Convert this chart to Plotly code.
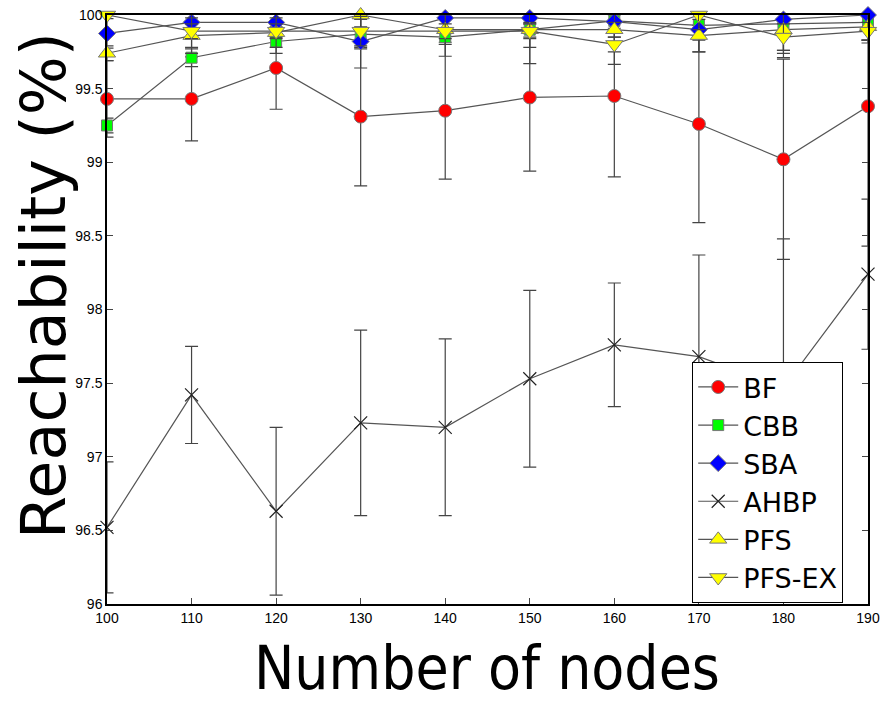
import plotly.graph_objects as go

nodes = [100, 110, 120, 130, 140, 150, 160, 170, 180, 190]

bf = [99.43, 99.43, 99.64, 99.31, 99.35, 99.44, 99.45, 99.26, 99.02, 99.38]
bf_err = [0.26, 0.285, 0.28, 0.47, 0.465, 0.50, 0.55, 0.67, 0.68, 0.95]

cbb = [99.25, 99.71, 99.82, 99.87, 99.85, 99.90, 99.96, 99.93, 99.94, 99.95]
cbb_err = [0.05, 0.06, 0.08, 0.10, 0.13, 0.12, 0.05, 0.10, 0.20, 0.12]

sba = [99.875, 99.95, 99.95, 99.82, 99.98, 99.98, 99.955, 99.90, 99.97, 100.0]
sba_err = [0.10, 0.17, 0.10, 0.18, 0.10, 0.31, 0.29, 0.15, 0.26, 0.19]

ahbp = [96.52, 97.42, 96.63, 97.23, 97.20, 97.53, 97.76, 97.68, 97.47, 98.24]
ahbp_err = [0.445, 0.33, 0.57, 0.63, 0.60, 0.60, 0.42, 0.69, 1.01, 0.51]

pfs = [99.74, 99.86, 99.88, 100.0, 99.90, 99.90, 99.90, 99.86, 99.90, 99.92]
pfs_err = [0.05, 0.12, 0.10, 0.08, 0.10, 0.05, 0.05, 0.11, 0.14, 0.09]

pfs_ex = [100.0, 99.89, 99.89, 99.89, 99.89, 99.89, 99.80, 100.0, 99.85, 99.89]
pfs_ex_err = [0.0, 0.05, 0.05, 0.10, 0.05, 0.05, 0.05, 0.10, 0.09, 0.06]

series = [
    ("BF", bf, bf_err, "circle", "#ff0000", 13),
    ("CBB", cbb, cbb_err, "square", "#00ff00", 11),
    ("SBA", sba, sba_err, "diamond", "#0000ff", 13),
    ("AHBP", ahbp, ahbp_err, "x-thin", "#222222", 13),
    ("PFS", pfs, pfs_err, "triangle-up", "#ffff00", 15),
    ("PFS-EX", pfs_ex, pfs_ex_err, "triangle-down", "#ffff00", 15),
]

fig = go.Figure()
for name, vals, err, sym, col, size in series:
    if sym == "x-thin":
        marker = dict(symbol=sym, size=size, color=col, line=dict(color="#222222", width=1.2))
    else:
        marker = dict(symbol=sym, size=size, color=col, line=dict(color="#777777", width=1))
    fig.add_trace(go.Scatter(
        x=nodes, y=vals, name=name, mode="lines+markers",
        line=dict(color="#555555", width=1.2),
        marker=marker,
        error_y=dict(type="data", array=err, visible=True, color="#444444",
                     thickness=1.2, width=6.5),
        cliponaxis=False,
    ))

fig.update_layout(
    width=882, height=703,
    margin=dict(l=107, r=14, t=15, b=99, autoexpand=False),
    paper_bgcolor="white", plot_bgcolor="white",
    showlegend=True,
    legend=dict(x=0.769, y=0.411, xanchor="left", yanchor="top",
                bgcolor="white", bordercolor="black", borderwidth=1,
                font=dict(family="DejaVu Sans", size=27, color="black"),
                tracegroupgap=0, itemwidth=40),
    font=dict(family="Liberation Sans", size=14, color="black"),
    annotations=[
        dict(text="Number of nodes", xref="paper", yref="paper",
             x=0.499, y=0, yshift=-64, xanchor="center", yanchor="middle",
             showarrow=False,
             font=dict(family="DejaVu Sans Condensed, DejaVu Sans", size=60, color="black")),
        dict(text="Reachability (%)", xref="paper", yref="paper",
             x=0, xshift=-63, y=0.54, xanchor="center", yanchor="middle",
             textangle=-90, showarrow=False,
             font=dict(family="DejaVu Sans", size=62, color="black")),
    ],
)
fig.update_xaxes(range=[100, 190], dtick=10, tick0=100, ticks="inside", ticklen=6,
                 showline=True, linecolor="black", linewidth=1.5, mirror="ticks",
                 showgrid=False, zeroline=False, tickfont=dict(size=14), automargin=False)
fig.update_yaxes(range=[96, 100], dtick=0.5, tick0=96, ticks="inside", ticklen=6,
                 showline=True, linecolor="black", linewidth=1.5, mirror="ticks",
                 showgrid=False, zeroline=False, tickfont=dict(size=14), automargin=False)

fig.write_html("out.html", config={"displayModeBar": False},
               post_script="document.body.style.margin='0px';document.body.style.overflow='hidden';")
